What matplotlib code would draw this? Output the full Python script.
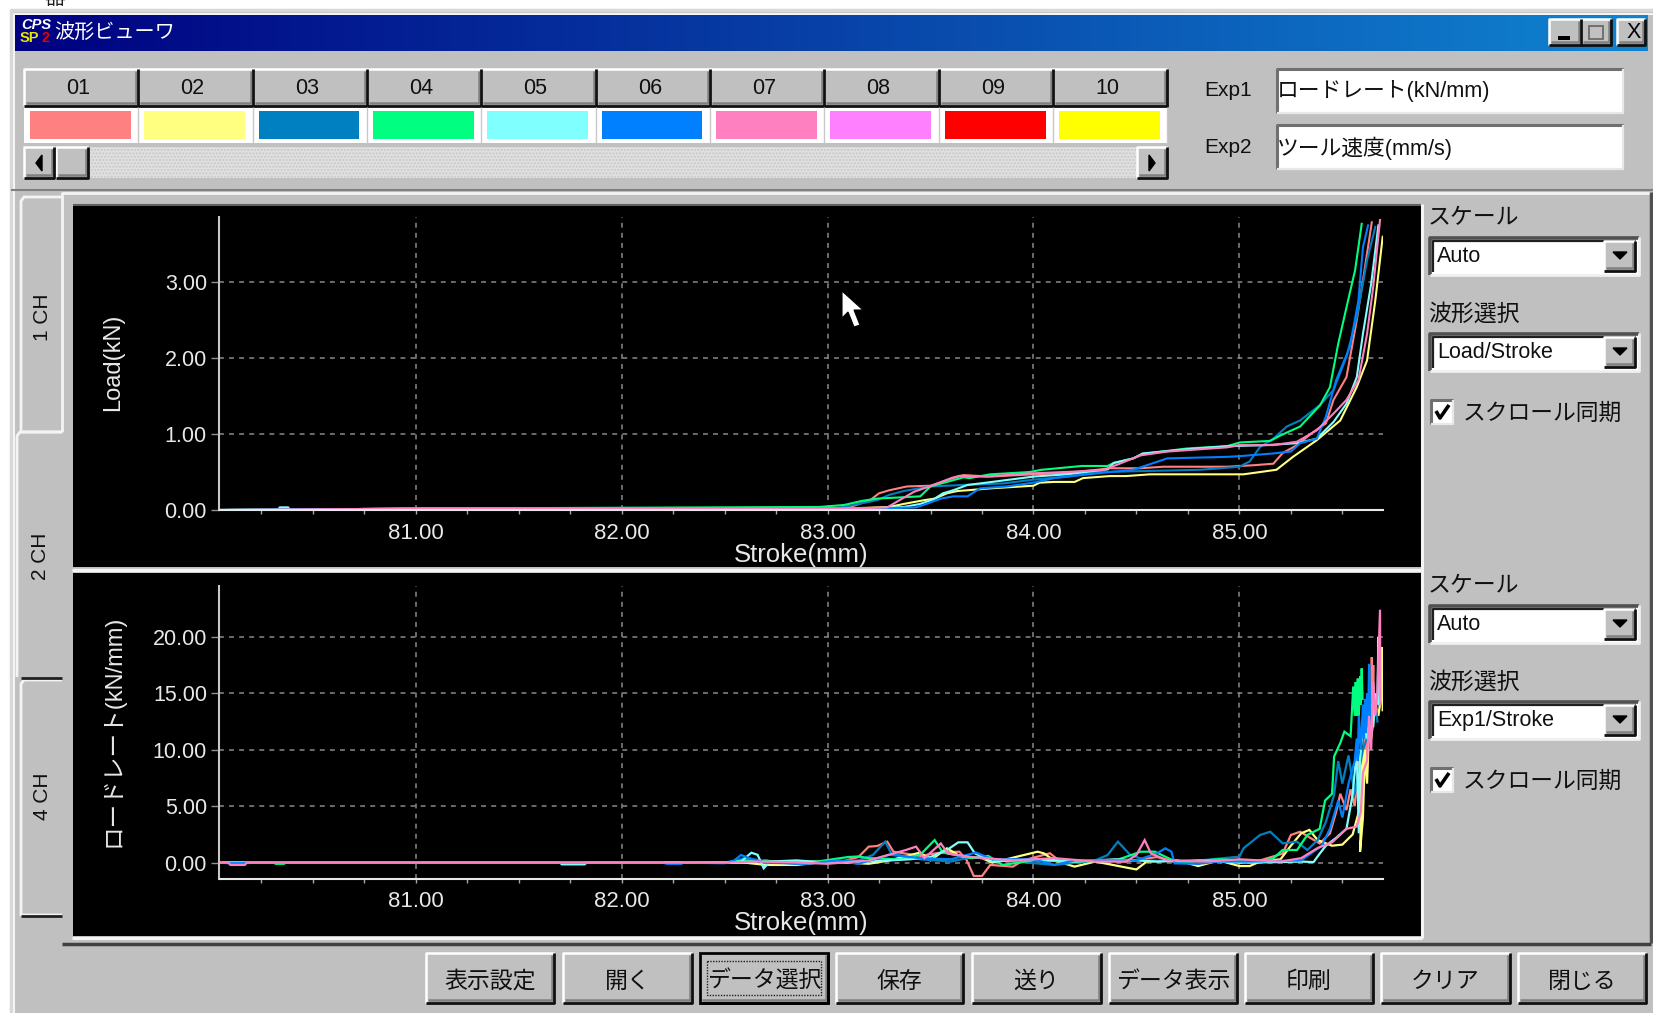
import numpy as np
import matplotlib
matplotlib.use('Agg')
import matplotlib.pyplot as plt
from matplotlib.patches import Rectangle, Polygon
from matplotlib.ticker import MultipleLocator, FormatStrFormatter

plt.rcParams['font.family'] = ['Liberation Sans', 'Noto Sans CJK JP', 'DejaVu Sans']

W, H = 1653, 1013

# ---------- data ----------
channel_labels = ['01', '02', '03', '04', '05', '06', '07', '08', '09', '10']
channel_colors = ['#FF8080', '#FFFF80', '#0080C0', '#00FF80', '#80FFFF',
                  '#0080FF', '#FF80C0', '#FF80FF', '#FF0000', '#FFFF00']
button_labels = ['表示設定', '開く', 'データ選択', '保存', '送り', 'データ表示', '印刷', 'クリア', '閉じる']
stroke_ticks = [81, 82, 83, 84, 85]
load_ticks = [0, 1, 2, 3]
rate_ticks = [0, 5, 10, 15, 20]

load_x_01 = [80.05, 81.1, 82.9, 83.1, 83.207, 83.25, 83.3, 83.385, 83.5, 83.61, 83.66, 83.79, 84.0, 84.18, 84.37, 84.52, 84.63, 84.94, 85.07, 85.165, 85.21, 85.28, 85.36, 85.42, 85.457, 85.52, 85.57, 85.61, 85.643]
load_y_01 = [0.0, 0.02, 0.02, 0.03, 0.13, 0.22, 0.26, 0.31, 0.32, 0.42, 0.46, 0.44, 0.47, 0.49, 0.55, 0.55, 0.57, 0.57, 0.59, 0.61, 0.75, 0.855, 1.03, 1.14, 1.45, 1.75, 2.5, 3.2, 3.79]
load_x_02 = [80.05, 81.1, 83.1, 83.3, 83.37, 83.47, 83.52, 83.58, 83.63, 83.68, 83.79, 84.0, 84.03, 84.1, 84.2, 84.24, 84.37, 84.45, 84.566, 84.89, 85.02, 85.18, 85.26, 85.376, 85.49, 85.57, 85.62, 85.66, 85.696]
load_y_02 = [0.0, 0.02, 0.02, 0.04, 0.08, 0.13, 0.15, 0.22, 0.25, 0.26, 0.285, 0.32, 0.36, 0.37, 0.37, 0.42, 0.447, 0.447, 0.47, 0.47, 0.47, 0.53, 0.70, 0.92, 1.18, 1.62, 1.97, 2.76, 3.6]
load_x_03 = [80.05, 81.1, 83.05, 83.24, 83.30, 83.37, 83.5, 83.66, 83.855, 84.0, 84.16, 84.32, 84.81, 85.0, 85.05, 85.1, 85.165, 85.23, 85.295, 85.39, 85.457, 85.52, 85.57, 85.62, 85.66]
load_y_03 = [0.0, 0.02, 0.025, 0.13, 0.2, 0.25, 0.31, 0.33, 0.35, 0.4, 0.44, 0.5, 0.53, 0.57, 0.64, 0.83, 0.94, 1.1, 1.18, 1.38, 1.58, 2.02, 2.54, 3.29, 3.73]
load_x_04 = [80.05, 81.1, 82.96, 83.08, 83.167, 83.24, 83.45, 83.5, 83.58, 83.66, 83.69, 83.79, 83.98, 84.04, 84.235, 84.36, 84.39, 84.485, 84.534, 84.744, 84.938, 85.003, 85.149, 85.198, 85.295, 85.392, 85.44, 85.48, 85.521, 85.562, 85.594]
load_y_04 = [0.0, 0.02, 0.04, 0.066, 0.12, 0.15, 0.18, 0.31, 0.37, 0.43, 0.42, 0.47, 0.5, 0.53, 0.58, 0.58, 0.62, 0.68, 0.74, 0.81, 0.84, 0.89, 0.91, 0.98, 1.10, 1.38, 1.62, 2.19, 2.68, 3.16, 3.77]
load_x_05 = [80.05, 80.33, 80.34, 80.38, 80.39, 81.1, 83.2, 83.37, 83.45, 83.515, 83.56, 83.61, 83.68, 83.77, 83.87, 84.0, 84.16, 84.36, 84.39, 84.485, 84.53, 84.744, 84.94, 85.13, 85.28, 85.376, 85.457, 85.52, 85.57, 85.6, 85.64, 85.675]
load_y_05 = [0.0, 0.0, 0.035, 0.035, 0.0, 0.02, 0.02, 0.04, 0.08, 0.14, 0.22, 0.26, 0.33, 0.36, 0.395, 0.44, 0.47, 0.535, 0.62, 0.68, 0.745, 0.8, 0.84, 0.855, 0.88, 0.94, 1.16, 1.40, 1.75, 2.32, 2.98, 3.75]
load_x_06 = [80.05, 81.1, 83.25, 83.43, 83.48, 83.55, 83.61, 83.68, 83.74, 83.87, 84.0, 84.1, 84.23, 84.39, 84.485, 84.65, 84.94, 85.003, 85.165, 85.25, 85.295, 85.376, 85.42, 85.47, 85.537, 85.578, 85.6, 85.625]
load_y_06 = [0.0, 0.02, 0.02, 0.035, 0.08, 0.15, 0.18, 0.18, 0.285, 0.31, 0.36, 0.42, 0.46, 0.505, 0.53, 0.68, 0.70, 0.71, 0.745, 0.77, 0.88, 0.94, 1.23, 1.71, 2.15, 2.76, 3.46, 3.75]
load_x_07 = [80.05, 81.1, 83.15, 83.29, 83.35, 83.42, 83.515, 83.6, 83.64, 83.77, 83.97, 84.19, 84.34, 84.4, 84.52, 84.65, 84.94, 85.0, 85.165, 85.28, 85.376, 85.457, 85.52, 85.578, 85.62, 85.65, 85.683]
load_y_07 = [0.0, 0.02, 0.02, 0.035, 0.13, 0.24, 0.33, 0.42, 0.45, 0.44, 0.48, 0.505, 0.53, 0.59, 0.72, 0.77, 0.825, 0.855, 0.855, 0.9, 1.05, 1.27, 1.45, 1.71, 2.32, 2.94, 3.82]

rate_x_01 = [80.05, 82.6, 82.7, 82.8, 82.95, 83.05, 83.15, 83.2, 83.24, 83.29, 83.32, 83.45, 83.55, 83.64, 83.675, 83.71, 83.75, 83.79, 83.9, 83.95, 84.08, 84.13, 84.3, 84.45, 84.6, 84.7, 84.85, 85.0, 85.1, 85.21, 85.25, 85.295, 85.335, 85.39, 85.44, 85.47, 85.49, 85.52, 85.54, 85.56, 85.58, 85.6, 85.61, 85.62, 85.63, 85.64, 85.643, 85.645, 85.65, 85.655]
rate_y_01 = [0, 0, .2, -.1, .1, 0, .5, 1.42, 1.47, 1.86, .97, .6, .9, .97, .24, -1.18, -1.18, -.2, -.35, .2, .83, .1, .2, .1, .5, 0, .2, .1, .2, .8, 2.45, 2.74, 2.3, 1.7, 2.6, 4.5, 6.1, 4.66, 6.5, 5, 9, 7, 12, 9, 15, 12, 18.2, 14, 17.5, 13]
rate_x_02 = [80.05, 82.6, 82.7, 82.85, 83.0, 83.2, 83.3, 83.45, 83.5, 83.58, 83.65, 83.75, 83.8, 84.02, 84.05, 84.1, 84.2, 84.3, 84.47, 84.5, 84.55, 84.7, 84.8, 84.9, 85.0, 85.05, 85.1, 85.2, 85.25, 85.3, 85.34, 85.38, 85.45, 85.5, 85.55, 85.58, 85.6, 85.586, 85.6, 85.61, 85.62, 85.63, 85.64, 85.66, 85.675, 85.69, 85.695, 85.696]
rate_y_02 = [0, 0, -.2, -.2, .1, -.1, .2, .9, .2, 1.27, .5, .4, 0, .97, .83, .2, -.35, .1, -.5, -.6, .1, .2, -.3, .2, -.3, -.3, .1, .3, 1.5, 2.6, 2.9, 2.0, 1.5, 1.6, 2.5, 4.5, 10, .97, 4, 10, 7, 12, 11, 14, 13, 15, 19.1, 13.5]
rate_x_03 = [80.05, 82.5, 82.6, 82.7, 82.85, 83.0, 83.15, 83.22, 83.28, 83.31, 83.45, 83.6, 83.7, 83.85, 84.1, 84.3, 84.36, 84.41, 84.47, 84.55, 84.75, 85.0, 85.02, 85.1, 85.15, 85.21, 85.28, 85.33, 85.38, 85.42, 85.46, 85.48, 85.5, 85.53, 85.56, 85.58, 85.6, 85.62, 85.64, 85.66, 85.67]
rate_y_03 = [0, 0, .4, .1, -.1, .1, .2, .68, 1.86, .8, .3, .1, .5, .2, -.2, .2, .68, 1.86, .68, .2, .1, .53, 1.27, 2.45, 2.74, 1.71, 1.86, 1.12, 2.0, 3.6, 6, 9, 7, 9.5, 6, 8, 10, 11, 13, 15, 12.5]
rate_x_04 = [80.05, 80.31, 80.32, 80.36, 80.37, 82.5, 82.6, 82.75, 82.95, 83.1, 83.15, 83.2, 83.35, 83.45, 83.52, 83.56, 83.7, 83.78, 83.85, 84.0, 84.2, 84.4, 84.52, 84.59, 84.7, 84.9, 85.1, 85.165, 85.21, 85.28, 85.33, 85.39, 85.416, 85.45, 85.46, 85.49, 85.51, 85.54, 85.553, 85.56, 85.565, 85.57, 85.575, 85.58, 85.587, 85.59, 85.594, 85.598]
rate_y_04 = [0, 0, -.1, -.1, 0, 0, .2, .1, .1, .5, .55, .4, .3, .7, 2.0, .9, .4, .6, -.2, .2, .1, .2, .97, .97, 0, .3, .1, .38, 1.12, 1.12, 2.45, 3.0, 5.5, 6.1, 9.4, 10.6, 11.6, 11.2, 15.6, 13, 16, 13, 16.3, 13, 16.5, 14, 17.2, 14.5]
rate_x_05 = [80.05, 81.7, 81.71, 81.82, 81.83, 82.5, 82.58, 82.63, 82.66, 82.69, 82.72, 82.85, 83.0, 83.2, 83.4, 83.5, 83.58, 83.635, 83.68, 83.715, 83.8, 84.0, 84.2, 84.4, 84.6, 84.8, 85.0, 85.2, 85.3, 85.36, 85.39, 85.42, 85.47, 85.52, 85.55, 85.57, 85.58, 85.585, 85.6, 85.62, 85.64, 85.65, 85.66, 85.67, 85.675, 85.68]
rate_y_05 = [0, 0, -.15, -.15, 0, 0, .1, .88, .7, -.5, .1, .2, 0, .1, .3, .5, 1.12, 1.8, 1.8, .83, .1, .3, .1, .3, .1, .2, 0, .05, .1, .05, .8, 1.5, 2.2, 3, 6, 10, 2.6, 9, 12, 11, 14, 12, 15, 14, 20, 14]
rate_x_06 = [80.05, 80.09, 80.17, 80.18, 82.2, 82.22, 82.29, 82.3, 82.5, 82.54, 82.58, 82.62, 82.7, 82.9, 83.05, 83.15, 83.3, 83.45, 83.6, 83.72, 83.8, 84.0, 84.1, 84.2, 84.5, 84.6, 84.64, 84.67, 84.685, 84.8, 84.9, 85.05, 85.3, 85.4, 85.44, 85.48, 85.5, 85.53, 85.56, 85.57, 85.575, 85.58, 85.59, 85.6, 85.605, 85.61, 85.615, 85.62, 85.625, 85.63, 85.635, 85.64]
rate_y_06 = [0, -.05, -.05, 0, 0, -.1, -.1, 0, -.05, .1, .68, .4, 0, -.1, .2, -.1, .7, .4, .3, .9, .3, .3, -.2, .2, .2, .83, 1.27, .97, -.06, -.1, .1, .1, .2, 1.5, 3, 5.5, 4, 7, 9, 11, 9, 13, 10, 14, 11, 14.5, 11.5, 15, 12, 17.6, 14, 11.5]
rate_x_07 = [80.05, 80.09, 80.1, 80.17, 80.18, 82.5, 82.65, 82.8, 83.0, 83.2, 83.38, 83.43, 83.47, 83.55, 83.585, 83.7, 83.9, 84.1, 84.3, 84.45, 84.5, 84.54, 84.57, 84.65, 84.85, 85.0, 85.2, 85.3, 85.38, 85.45, 85.52, 85.57, 85.59, 85.6, 85.62, 85.63, 85.64, 85.65, 85.66, 85.67, 85.683, 85.685]
rate_y_07 = [0, 0, -.2, -.2, 0, 0, .1, .05, -.1, .2, 1.12, 1.42, .4, 1.7, .8, .5, .2, .4, .1, .1, .68, 2.0, .83, .2, .1, .3, .1, .4, 1.3, 1.8, 3, 3.2, 4.5, 8, 9, 13, 10, 16, 13, 15, 22.4, 14]

load_series = [(load_x_01, load_y_01), (load_x_02, load_y_02), (load_x_03, load_y_03), (load_x_04, load_y_04),
               (load_x_05, load_y_05), (load_x_06, load_y_06), (load_x_07, load_y_07)]
rate_series = [(rate_x_01, rate_y_01), (rate_x_02, rate_y_02), (rate_x_03, rate_y_03), (rate_x_04, rate_y_04),
               (rate_x_05, rate_y_05), (rate_x_06, rate_y_06), (rate_x_07, rate_y_07)]

# ---------- figure & UI overlay in pixel coordinates ----------
fig = plt.figure(figsize=(W / 100, H / 100), dpi=100, facecolor='white')
ui = fig.add_axes([0, 0, 1, 1], zorder=0)
ui.set_xlim(0, W)
ui.set_ylim(H, 0)
ui.axis('off')

GRAY, DARK, LIGHT = '#C0C0C0', '#808080', '#F0F0F0'


def rect(x0, y0, x1, y1, color, z=1):
    ui.add_patch(Rectangle((x0, y0), x1 - x0, y1 - y0, facecolor=color, edgecolor='none', zorder=z))


def line(xs, ys, color, lw=1.4, z=3, **kw):
    ui.plot(xs, ys, color=color, lw=lw, zorder=z, solid_capstyle='butt', **kw)


def raised(x0, y0, x1, y1, z=2, face=GRAY):
    rect(x0, y0, x1, y1, face, z)
    line([x0, x0, x1], [y1, y0, y0], 'white', 1.8, z + .1)
    line([x0 + 2, x1 - 2, x1 - 2], [y1 - 3, y1 - 3, y0 + 2], DARK, 1.8, z + .1)
    line([x0, x1, x1], [y1, y1, y0], '#101010', 2.0, z + .2)


def sunken(x0, y0, x1, y1, z=2):
    rect(x0, y0, x1, y1, 'white', z)
    line([x0, x0, x1], [y1, y0, y0], '#707070', 2.2, z + .1)
    line([x0, x1, x1], [y1, y1, y0], '#E8E8E8', 1.6, z + .1)


def ui_text(x, y, s, size=15.5, color='#101010', ha='left', rot=0, **kw):
    ui.text(x, y, s, fontsize=size, color=color, ha=ha, va='center', rotation=rot, zorder=6, **kw)


# window
rect(10.5, 9.5, W, H, GRAY, 0.5)
line([10.5, 10.5, W], [H, 9.5, 9.5], '#D8D8D8', 2.5, 0.6)
line([14, 14, W], [H, 13.5, 13.5], '#F4F4F4', 1.5, 0.6)
ui.text(55, -2, '器', fontsize=15, color='#202020', ha='center', va='center', clip_on=True, zorder=1)

# title bar
grad = np.linspace(0, 1, 512)[None, :, None] * (np.array([16, 132, 208]) - np.array([0, 0, 128])) + np.array([0, 0, 128])
ui.imshow(grad.astype(np.uint8), extent=(15, 1648, 50.7, 15), aspect='auto', zorder=1, interpolation='bilinear')
ui.set_xlim(0, W)
ui.set_ylim(H, 0)
ui_text(54, 33.5, '波形ビューワ', 14.5, 'white')
ui_text(21, 25, 'CPS', 10.5, 'white', weight='bold', style='italic')
ui_text(20, 38, 'SP', 10.5, '#E8E800', weight='bold')
ui_text(41, 38, '2', 10.5, '#E00000', weight='bold')
raised(1549, 19, 1581, 45)
raised(1581, 19, 1611, 45)
raised(1617, 19, 1645, 45)
rect(1558, 36, 1570, 39.5, 'black', 4)
ui.add_patch(Rectangle((1589, 26), 14, 13, facecolor='none', edgecolor='#707070', lw=1.4, zorder=4))
ui_text(1634, 32, 'X', 15.5, 'black', ha='center')

# channel header + swatches
left0, step = 24, 114.35
for i, (lab, col) in enumerate(zip(channel_labels, channel_colors)):
    x0 = left0 + i * step
    raised(x0, 69, x0 + step, 106)
    ui_text(x0 + 54, 88, lab, 15.5, ha='center')
    rect(x0, 107, x0 + step, 143, 'white', 2)
    line([x0 + step, x0 + step], [107, 143], '#C8C8C8', 1, 2.5)
    rect(x0 + 6, 111, x0 + 106.7, 139, col, 3)

# scrollbar
ui.add_patch(Rectangle((24, 147), 1143, 31, facecolor='#E0E0E0', edgecolor='#C8C8C8', hatch='.....', lw=0, zorder=2))
raised(24, 147, 54, 178)
raised(56, 147, 88, 178)
raised(1137, 147, 1167, 178)
ui.add_patch(Polygon([[36, 163], [42, 155], [42, 171]], closed=True, color='black', zorder=5))
ui.add_patch(Polygon([[1155, 163], [1149, 155], [1149, 171]], closed=True, color='black', zorder=5))

# Exp boxes
ui_text(1228, 90, 'Exp1', 15, ha='center')
ui_text(1228, 147, 'Exp2', 15, ha='center')
sunken(1277, 69, 1623, 113)
sunken(1277, 125, 1623, 169)
ui_text(1277, 91, 'ロードレート(kN/mm)', 15.7)
ui_text(1277, 148, 'ツール速度(mm/s)', 15.7)

# tab panel
line([11, W], [189.5, 189.5], '#808080', 1.5, 1)
rect(62, 192, 1650, 943, GRAY, 1)
line([62, 1650], [192.5, 192.5], '#F4F4F4', 2, 1.2)
line([1651, 1651], [192, 943], '#505050', 2.5, 1.2)
line([62, 1651], [943.5, 943.5], '#404040', 2.5, 1.2)
line([62, 62], [192, 432], '#F4F4F4', 2, 1.2)

# tabs
for y0, y1, xl in [(197, 432, 21), (680, 915, 21)]:
    line([62, xl + 3, xl, xl, 62], [y0, y0, y0 + 4, y1, y1], '#F4F4F4', 2, 2)
line([21, 62], [677.5, 677.5], '#202020', 2, 2.5)
line([21, 62], [915.5, 915.5], '#202020', 2, 2.5)
line([62, 20, 17, 17], [432, 432, 436, 677], '#F4F4F4', 2, 2.2)
rect(18, 434, 72, 677, GRAY, 1.5)
ui_text(42, 317, '1 CH', 15, ha='center', rot=90)
ui_text(40, 556, '2 CH', 15, ha='center', rot=90)
ui_text(42, 796, '4 CH', 15, ha='center', rot=90)

# black chart panels
rect(73, 205, 1421, 567, 'black', 2)
rect(73, 573, 1421, 936, 'black', 2)
line([73, 1421], [204.5, 204.5], '#606060', 1.5, 2.2)
line([72, 1422], [570, 570], '#F4F4F4', 2.5, 2.2)
line([72, 1422], [937.5, 937.5], '#F4F4F4', 2.2, 2.2)
line([1422, 1422], [204, 938], '#F4F4F4', 2.2, 2.2)


def combo(y0, label):
    rect(1430, y0, 1639, y0 + 38, 'white', 2)
    line([1430, 1430, 1639], [y0 + 38, y0 + 1, y0 + 1], '#505050', 2.6, 2.2)
    line([1433, 1433, 1636], [y0 + 35, y0 + 4, y0 + 4], '#202020', 1.6, 2.2)
    line([1430, 1639, 1639], [y0 + 38, y0 + 38, y0], '#F0F0F0', 2, 2.2)
    raised(1604, y0 + 4, 1635, y0 + 34, 3)
    ui.add_patch(Polygon([[1613, y0 + 15], [1627, y0 + 15], [1620, y0 + 22]], closed=True, color='black', zorder=5))
    ui_text(1437, y0 + 19, label, 15.5)


def side(off, wave):
    ui_text(1428, 218 + off, 'スケール', 16.5)
    combo(237 + off, 'Auto')
    ui_text(1428, 314 + off, '波形選択', 16.5)
    combo(333 + off, wave)
    sunken(1431, 400 + off, 1453, 424 + off)
    line([1436, 1440, 1449], [411 + off, 418 + off, 405 + off], 'black', 2.6, 5)
    ui_text(1463, 413 + off, 'スクロール同期', 16.4)


side(0, 'Load/Stroke')
side(368, 'Exp1/Stroke')

# bottom buttons
btn_x = [(425.6, 554), (563, 692), (700, 827.5), (835.5, 963), (972, 1100.7), (1108.7, 1237), (1244.5, 1373), (1381, 1510), (1518, 1645.6)]
for i, ((x0, x1), lab) in enumerate(zip(btn_x, button_labels)):
    raised(x0, 953, x1, 1003)
    ui_text((x0 + x1) / 2, 981, lab, 16.5, ha='center')
    if i == 2:
        ui.add_patch(Rectangle((x0, 953), x1 - x0, 50, facecolor='none', edgecolor='black', lw=2, zorder=5))
        ui.add_patch(Rectangle((x0 + 7, 961), x1 - x0 - 14, 34, facecolor='none', edgecolor='#202020', lw=1, ls=(0, (1, 1)), zorder=5))


# ---------- charts ----------
def px_axes(x0, y_top, x1, y_bottom):
    return fig.add_axes([x0 / W, 1 - y_bottom / H, (x1 - x0) / W, (y_bottom - y_top) / H], zorder=2, facecolor='none')


def style(ax, yticks, ylabel, ysize):
    for s in ('top', 'right'):
        ax.spines[s].set_visible(False)
    for s in ('left', 'bottom'):
        ax.spines[s].set_color('#C8C8C8')
        ax.spines[s].set_linewidth(1.5)
    ax.spines['bottom'].set_color('#E8E8E8')
    ax.set_xlim(80.047, 85.696)
    ax.set_xticks(stroke_ticks)
    ax.xaxis.set_minor_locator(MultipleLocator(0.25))
    ax.set_yticks(yticks)
    ax.xaxis.set_major_formatter(FormatStrFormatter('%.2f'))
    ax.yaxis.set_major_formatter(FormatStrFormatter('%.2f'))
    ax.tick_params(axis='x', which='both', colors='#A8A8A8', length=3, width=1, labelcolor='#E8E8E8', labelsize=16, pad=6)
    ax.tick_params(axis='y', colors='#909090', length=6, width=1, labelcolor='#E8E8E8', labelsize=15.5, pad=3)
    for lbl in ax.get_xticklabels():
        lbl.set_x(lbl.get_position()[0])
    ax.set_axisbelow(True)
    ax.grid(True, which='major', color='#8A8A8A', lw=1.1, ls=(0, (3.2, 3.4)))
    ax.set_xlabel('Stroke(mm)', fontsize=18.5, color='#E8E8E8')
    ax.xaxis.set_label_coords(0.5, -0.153)
    ax.xaxis.label.set_va('center')
    ax.set_ylabel(ylabel, fontsize=ysize, color='#E8E8E8')
    ax.yaxis.set_label_coords(-0.0916, 0.505)
    ax.yaxis.label.set_va('center')


ax1 = px_axes(219.5, 217, 1382.7, 510)
ax1.set_ylim(0, 3.86)
style(ax1, load_ticks, 'Load(kN)', 17)
for (x, y), c in zip(load_series, channel_colors):
    ax1.plot(x, y, color=c, lw=1.5, solid_joinstyle='miter')

ax2 = px_axes(219.5, 586, 1382.7, 878.7)
ax2.set_ylim(-1.42, 24.5)
style(ax2, rate_ticks, 'ロードレート(kN/mm)', 17)
for (x, y), c in zip(rate_series, channel_colors):
    ax2.plot(x, y, color=c, lw=1.6, solid_joinstyle='miter')

# mouse pointer
ptr = fig.add_axes([0, 0, 1, 1], zorder=5, facecolor='none')
ptr.set_xlim(0, W)
ptr.set_ylim(H, 0)
ptr.axis('off')
ptr.add_patch(Polygon([[842, 291], [842, 318], [848, 312], [854, 327], [860, 325], [854, 310], [863, 310]],
                      closed=True, facecolor='white', edgecolor='black', lw=0.8))

fig.savefig('out.png', dpi=100, facecolor='white')
